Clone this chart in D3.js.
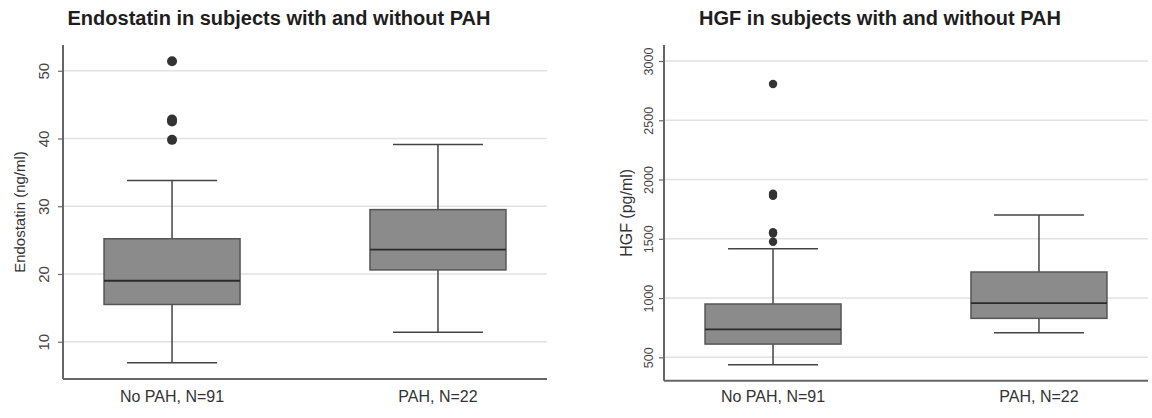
<!DOCTYPE html>
<html>
<head>
<meta charset="utf-8">
<script src="https://cdn.jsdelivr.net/npm/d3@7"></script>
<style>
  body { margin: 0; background: #fff; }
  svg { display: block; font-family: "Liberation Sans", Arial, sans-serif; }
</style>
</head>
<body>
<svg></svg>
<script>
var width = 1152;
var height = 418;

// categories
var groups = ["No PAH, N=91", "PAH, N=22"];

// box stats per group: [lower whisker, q1, median, q3, upper whisker]
var endoStats = [[6.9, 15.5, 19.0, 25.2, 33.8], [11.4, 20.6, 23.6, 29.5, 39.1]];
var endoOutliers = [[51.4, 42.8, 42.5, 39.8], []];
var endoTicks = [10, 20, 30, 40, 50];

var hgfStats = [[438, 612, 736, 950, 1416], [708, 829, 958, 1220, 1701]];
var hgfOutliers = [[2806, 1880, 1862, 1555, 1545, 1475], []];
var hgfTicks = [500, 1000, 1500, 2000, 2500, 3000];

var svg = d3.select('svg')
	.attr('width', width)
	.attr('height', height);

var drawPanel = function(p) {
	var g = svg.append('g').attr('transform', 'translate(' + p.left + ',0)');
	var plotW = 484;

	var x = d3.scalePoint()
		.domain(groups)
		.range([0, plotW])
		.padding(0.41);

	var y = d3.scaleLinear()
		.domain(p.domain)
		.range([p.bottom, 45]);

	// title
	g.append('text')
		.attr('x', 216)
		.attr('y', 25)
		.attr('text-anchor', 'middle')
		.attr('font-size', '20px')
		.attr('font-weight', 'bold')
		.attr('fill', '#1e1e1e')
		.text(p.title);

	// grid
	g.append('g')
		.selectAll('line')
		.data(p.ticks)
		.enter()
		.append('line')
		.attr('x1', 0)
		.attr('x2', plotW)
		.attr('y1', d => y(d))
		.attr('y2', d => y(d))
		.attr('stroke', '#e2e2e2')
		.attr('stroke-width', 1.5);

	// y axis
	var yAxis = g.append('g')
		.call(d3.axisLeft(y).tickValues(p.ticks).tickSize(5).tickFormat(d3.format('d')));
	yAxis.select('.domain').remove();
	yAxis.selectAll('.tick line').attr('stroke', '#666').attr('stroke-width', 1.2);
	yAxis.selectAll('.tick text')
		.attr('transform', 'rotate(-90)')
		.attr('text-anchor', 'middle')
		.attr('x', 0)
		.attr('y', p.labelOff)
		.attr('dy', 0)
		.attr('font-size', p.tickFont)
		.attr('fill', '#444');

	g.append('line')
		.attr('x1', 0).attr('x2', 0)
		.attr('y1', 45).attr('y2', p.bottom)
		.attr('stroke', '#666').attr('stroke-width', 2);
	g.append('line')
		.attr('x1', 0).attr('x2', plotW)
		.attr('y1', p.bottom).attr('y2', p.bottom)
		.attr('stroke', '#666').attr('stroke-width', 2);

	// y label
	g.append('text')
		.attr('transform', 'translate(' + p.yLabelX + ',' + (45 + p.bottom) / 2 + ') rotate(-90)')
		.attr('text-anchor', 'middle')
		.attr('dy', '0.35em')
		.attr('font-size', p.labelFont)
		.attr('fill', '#333')
		.text(p.yLabel);

	// x labels
	g.append('g')
		.selectAll('text')
		.data(groups)
		.enter()
		.append('text')
		.attr('x', d => x(d))
		.attr('y', 402)
		.attr('text-anchor', 'middle')
		.attr('font-size', '16px')
		.attr('fill', '#333')
		.text(d => d);

	var boxW = 136;
	var capW = 90;

	var boxes = g.append('g')
		.selectAll('.box')
		.data(p.stats)
		.enter()
		.append('g')
		.classed('box', true)
		.attr('transform', (d, i) => 'translate(' + x(groups[i]) + ',0)');

	// whiskers
	boxes.append('line')
		.attr('x1', 0).attr('x2', 0)
		.attr('y1', d => y(d[0])).attr('y2', d => y(d[4]))
		.attr('stroke', '#444').attr('stroke-width', 1.5);
	boxes.append('line')
		.attr('x1', -capW / 2).attr('x2', capW / 2)
		.attr('y1', d => y(d[0])).attr('y2', d => y(d[0]))
		.attr('stroke', '#444').attr('stroke-width', 1.5);
	boxes.append('line')
		.attr('x1', -capW / 2).attr('x2', capW / 2)
		.attr('y1', d => y(d[4])).attr('y2', d => y(d[4]))
		.attr('stroke', '#444').attr('stroke-width', 1.5);

	boxes.append('rect')
		.attr('x', -boxW / 2)
		.attr('width', boxW)
		.attr('y', d => y(d[3]))
		.attr('height', d => y(d[1]) - y(d[3]))
		.attr('fill', '#8b8b8b')
		.attr('stroke', '#555')
		.attr('stroke-width', 1.5);

	boxes.append('line')
		.attr('x1', -boxW / 2).attr('x2', boxW / 2)
		.attr('y1', d => y(d[2])).attr('y2', d => y(d[2]))
		.attr('stroke', '#2a2a2a').attr('stroke-width', 1.8);

	// outliers
	boxes.selectAll('circle')
		.data((d, i) => p.outliers[i])
		.enter()
		.append('circle')
		.attr('cx', 0)
		.attr('cy', d => y(d))
		.attr('r', p.dotR)
		.attr('fill', '#333');
};

drawPanel({
	left: 63, bottom: 379, domain: [4.5, 53.8],
	ticks: endoTicks, stats: endoStats, outliers: endoOutliers,
	title: 'Endostatin in subjects with and without PAH',
	yLabel: 'Endostatin (ng/ml)', yLabelX: -43,
	tickFont: '15px', labelFont: '15px', labelOff: -14.5, dotR: 5
});

drawPanel({
	left: 664, bottom: 380.7, domain: [303, 3135],
	ticks: hgfTicks, stats: hgfStats, outliers: hgfOutliers,
	title: 'HGF in subjects with and without PAH',
	yLabel: 'HGF (pg/ml)', yLabelX: -38,
	tickFont: '12.5px', labelFont: '16px', labelOff: -11.5, dotR: 4.2
});
</script>
</body>
</html>
